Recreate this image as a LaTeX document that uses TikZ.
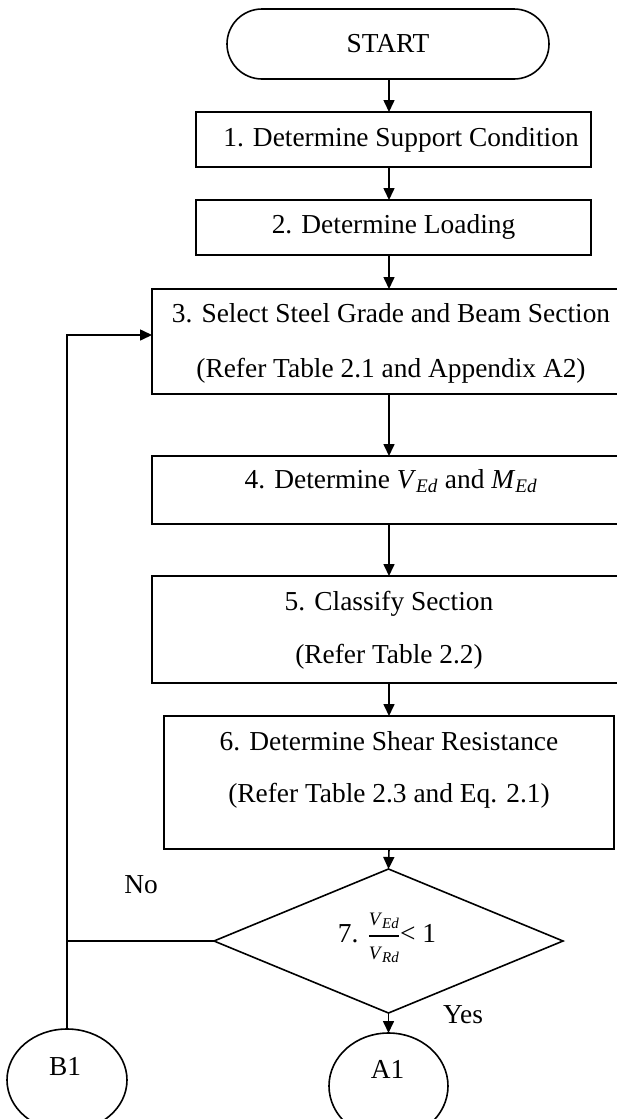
\documentclass[tikz,border=0pt]{standalone}
\usepackage{fontspec}
\setmainfont{Liberation Serif}
\usetikzlibrary{shapes.geometric,arrows.meta}
\newcommand{\fracpart}[2]{\hbox{\fontsize{19}{19}\selectfont\textit{#1}\raisebox{-3pt}{\fontsize{15}{15}\selectfont\textit{#2}}}}
\begin{document}
\begin{tikzpicture}[x=1pt,y=-1pt,
  line width=1.6pt,
  box/.style={draw,rectangle,inner sep=0pt,outer sep=0pt},
  txt/.style={anchor=base,inner sep=0pt,font=\fontsize{27.4}{32}\selectfont},
  arr/.style={-{Triangle[length=12pt,width=11pt]}}]
\useasboundingbox (0,0) rectangle (616,1119);
\coordinate (ax) at (389,0);
\coordinate (lp) at (0,335);
% shapes
\node[box,rounded corners=35pt,minimum width=322pt,minimum height=70pt] (start) at (388,44) {};
\node[box,minimum width=395pt,minimum height=55pt] (b1) at (393.5,139.5) {};
\node[box,minimum width=395pt,minimum height=55pt] (b2) at (393.5,227.5) {};
\node[box,minimum width=474pt,minimum height=105pt] (b3) at (389,341.5) {};
\node[box,minimum width=474pt,minimum height=68pt] (b4) at (389,490) {};
\node[box,minimum width=474pt,minimum height=107pt] (b5) at (389,629.5) {};
\node[box,minimum width=450pt,minimum height=133pt] (b6) at (389,782.5) {};
\node[draw,diamond,inner sep=0pt,outer sep=0pt,minimum width=349pt,minimum height=144pt] (dia) at (388.5,941) {};
\node[draw,ellipse,inner sep=0pt,outer sep=0pt,minimum width=120pt,minimum height=102pt] (cb1) at (67,1080) {};
\node[draw,ellipse,inner sep=0pt,outer sep=0pt,minimum width=119pt,minimum height=106pt] (ca1) at (388.5,1086) {};
% texts
\node[txt] (tstart) at (388,52) {START};
\node[txt] (t1) at (401,146) {1. Determine Support Condition};
\node[txt] (t2) at (393.5,233) {2. Determine Loading};
\node[txt] (t3a) at (391,322) {3. Select Steel Grade and Beam Section};
\node[txt] (t3b) at (391,377) {(Refer Table 2.1 and Appendix A2)};
\node[txt] (t4) at (391,488) {4. Determine \textit{V}\textsubscript{\textit{Ed}} and \textit{M}\textsubscript{\textit{Ed}}};
\node[txt] (t5a) at (389,610) {5. Classify Section};
\node[txt] (t5b) at (389,663) {(Refer Table 2.2)};
\node[txt] (t6a) at (389,750) {6. Determine Shear Resistance};
\node[txt] (t6b) at (389,802) {(Refer Table 2.3 and Eq. 2.1)};
\node[txt] (t7) at (387,942) {7. $\displaystyle{\fracpart{V}{Ed}\above 1.6pt\fracpart{V}{Rd}}$< 1};
\node[txt] (tno) at (141,893) {No};
\node[txt] (tyes) at (463,1023) {Yes};
\node[txt] (tb1) at (65,1075) {B1};
\node[txt] (ta1) at (387.5,1078) {A1};
% connectors
\draw[arr] (ax |- start.south) -- (ax |- b1.north);
\draw[arr] (ax |- b1.south) -- (ax |- b2.north);
\draw[arr] (ax |- b2.south) -- (ax |- b3.north);
\draw[arr] (ax |- b3.south) -- (ax |- b4.north);
\draw[arr] (ax |- b4.south) -- (ax |- b5.north);
\draw[arr] (ax |- b5.south) -- (ax |- b6.north);
\draw[arr] (ax |- b6.south) -- (dia.north);
\draw[arr] (dia.south) -- (ca1.north);
\draw (dia.west) -- (cb1.north |- dia.west);
\draw[arr] (cb1.north) -- (cb1.north |- lp) -- (b3.west |- lp);
\end{tikzpicture}
\end{document}
